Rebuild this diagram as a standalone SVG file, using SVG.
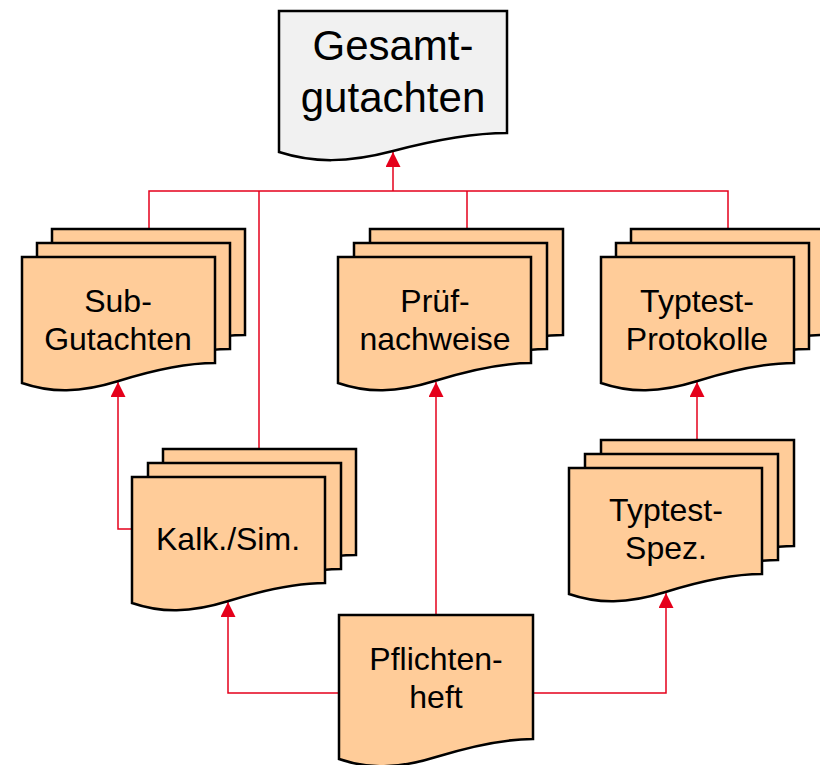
<svg xmlns="http://www.w3.org/2000/svg" xmlns:xlink="http://www.w3.org/1999/xlink" width="820" height="765" viewBox="0 0 820 765">
<style>
.doc{fill:#ffcc99;stroke:#000;stroke-width:2.5;stroke-linejoin:miter}
.gray{fill:#f1f1f1;stroke:#000;stroke-width:2.5}
.lbl{font-family:"Liberation Sans",Arial,Helvetica,sans-serif;font-size:32px;fill:#000;text-anchor:middle}
.big{font-size:42px}
.con{fill:none;stroke:#e5001b;stroke-width:1.5}
.arr{marker-end:url(#ah)}
</style>
<defs>
<path id="doc" d="M0,0 H193 V106 C164,106 135,112 96.5,124 C58,136 29,136 0,126 Z"/>
<marker id="ah" markerUnits="userSpaceOnUse" markerWidth="15" markerHeight="15" refX="15" refY="7.5" orient="auto" viewBox="0 0 15 15">
<path d="M0,0 L15,7.5 L0,15 Z" fill="#e5001b"/>
</marker>
</defs>
<g id="connectors">
<path class="con" d="M149,230 V191 H728 V229"/>
<path class="con" d="M467,191 V229"/>
<path class="con" d="M259,191 V449"/>
<path class="con arr" d="M393,191 V152"/>
<path class="con arr" d="M132,529 H118 V382"/>
<path class="con arr" d="M436,615 V382"/>
<path class="con arr" d="M339,693 H228 V602"/>
<path class="con arr" d="M533,693 H666 V593"/>
<path class="con arr" d="M697,440 V382"/>
</g>
<g id="gesamtgutachten">
<path class="gray" d="M279,11 H507 V133 C472.8,133 438.6,139 393,151 C347.4,163 313.2,163 279,152 Z"/>
<text class="lbl big" x="393" y="60">Gesamt-</text>
<text class="lbl big" x="393" y="112">gutachten</text>
</g>
<g id="subgutachten">
<use xlink:href="#doc" class="doc" x="52" y="229"/>
<use xlink:href="#doc" class="doc" x="37" y="243"/>
<use xlink:href="#doc" class="doc" x="22" y="257"/>
<text class="lbl" x="118" y="312">Sub-</text>
<text class="lbl" x="118" y="350">Gutachten</text>
</g>
<g id="pruefnachweise">
<use xlink:href="#doc" class="doc" x="370" y="229"/>
<use xlink:href="#doc" class="doc" x="354" y="243"/>
<use xlink:href="#doc" class="doc" x="338" y="257"/>
<text class="lbl" x="435" y="312">Prüf-</text>
<text class="lbl" x="435" y="350">nachweise</text>
</g>
<g id="typtestprotokolle">
<use xlink:href="#doc" class="doc" x="631" y="229"/>
<use xlink:href="#doc" class="doc" x="616" y="243"/>
<use xlink:href="#doc" class="doc" x="601" y="257"/>
<text class="lbl" x="697" y="312">Typtest-</text>
<text class="lbl" x="697" y="350">Protokolle</text>
</g>
<g id="kalksim">
<use xlink:href="#doc" class="doc" x="163" y="449"/>
<use xlink:href="#doc" class="doc" x="148" y="463"/>
<use xlink:href="#doc" class="doc" x="132" y="477"/>
<text class="lbl" x="228" y="550">Kalk./Sim.</text>
</g>
<g id="typtestspez">
<use xlink:href="#doc" class="doc" x="601" y="440"/>
<use xlink:href="#doc" class="doc" x="585" y="454"/>
<use xlink:href="#doc" class="doc" x="569" y="468"/>
<text class="lbl" x="666" y="521">Typtest-</text>
<text class="lbl" x="666" y="559">Spez.</text>
</g>
<g id="pflichtenheft">
<path class="doc" d="M339,615 H533 V739 C503.9,739 474.8,745 436,757 C397.2,769 368.1,769 339,759 Z"/>
<text class="lbl" x="436" y="670">Pflichten-</text>
<text class="lbl" x="436" y="708">heft</text>
</g>
</svg>
